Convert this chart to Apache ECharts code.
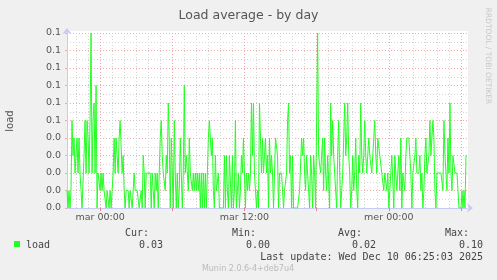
<!DOCTYPE html>
<html><head><meta charset="utf-8">
<script src="https://cdn.jsdelivr.net/npm/echarts@6/dist/echarts.min.js"></script>
<style>html,body{margin:0;padding:0;background:#f0f0f0;}#c{width:497px;height:280px;}</style>
</head><body><div id="c"></div>
<script>
// ---- data ----
const title = 'Load average - by day';
const seriesName = 'load';
// 5-minute samples, first sample at Mon 21:15 (165 min before "mar 00:00")
const startMinute = -165;
const stepMinutes = 5;
const loadValues = [
0.01,0.00,0.01,0.00,0.01,0.05,0.03,0.04,0.02,0.03,0.04,0.02,0.04,0.02,0.01,0.00,0.00,0.03,0.05,0.02,
0.05,0.04,0.02,0.05,0.10,0.02,0.05,0.06,0.02,0.07,0.00,0.02,0.02,0.01,0.02,0.01,0.02,0.01,0.01,0.00,
0.01,0.01,0.00,0.01,0.00,0.01,0.02,0.04,0.02,0.04,0.03,0.02,0.04,0.05,0.05,0.02,0.03,0.01,0.00,0.01,
0.01,0.01,0.00,0.01,0.01,0.00,0.01,0.02,0.01,0.01,0.01,0.01,0.00,0.00,0.01,0.00,0.03,0.02,0.00,0.02,
0.02,0.02,0.02,0.02,0.00,0.02,0.01,0.00,0.02,0.01,0.02,0.00,0.02,0.04,0.05,0.03,0.02,0.02,0.01,0.03,
0.02,0.06,0.04,0.00,0.04,0.02,0.00,0.05,0.02,0.00,0.02,0.00,0.01,0.04,0.02,0.00,0.02,0.07,0.02,0.03,
0.02,0.01,0.04,0.02,0.02,0.01,0.02,0.01,0.02,0.01,0.02,0.01,0.02,0.00,0.02,0.00,0.02,0.00,0.02,0.00,
0.02,0.04,0.05,0.04,0.03,0.04,0.01,0.00,0.03,0.01,0.01,0.02,0.00,0.00,0.00,0.00,0.00,0.03,0.00,0.03,
0.01,0.00,0.03,0.03,0.00,0.03,0.00,0.01,0.05,0.00,0.01,0.02,0.00,0.01,0.03,0.02,0.04,0.02,0.00,0.02,
0.01,0.02,0.01,0.02,0.06,0.03,0.06,0.02,0.02,0.00,0.01,0.00,0.06,0.04,0.02,0.04,0.02,0.03,0.04,0.02,
0.03,0.00,0.04,0.02,0.03,0.02,0.00,0.02,0.04,0.04,0.03,0.00,0.02,0.02,0.02,0.02,0.00,0.01,0.01,0.02,
0.05,0.06,0.02,0.03,0.00,0.03,0.00,0.00,0.00,0.00,0.00,0.00,0.01,0.01,0.04,0.03,0.04,0.02,0.01,0.03,
0.02,0.02,0.00,0.03,0.02,0.00,0.03,0.02,0.00,0.05,0.10,0.03,0.03,0.02,0.03,0.04,0.01,0.04,0.02,0.01,
0.03,0.03,0.00,0.06,0.03,0.05,0.03,0.02,0.02,0.00,0.03,0.05,0.02,0.00,0.01,0.02,0.04,0.06,0.03,0.04,
0.06,0.03,0.02,0.00,0.01,0.03,0.01,0.02,0.04,0.01,0.00,0.03,0.02,0.06,0.03,0.02,0.03,0.05,0.03,0.02,
0.03,0.04,0.03,0.03,0.02,0.03,0.03,0.05,0.03,0.02,0.04,0.04,0.03,0.03,0.02,0.02,0.01,0.02,0.02,0.01,
0.02,0.00,0.01,0.02,0.03,0.03,0.00,0.03,0.03,0.01,0.02,0.03,0.01,0.04,0.00,0.02,0.02,0.01,0.03,0.04,
0.04,0.04,0.03,0.02,0.00,0.02,0.02,0.03,0.04,0.02,0.02,0.02,0.03,0.01,0.02,0.00,0.01,0.03,0.04,0.02,
0.02,0.03,0.05,0.03,0.03,0.05,0.04,0.01,0.00,0.02,0.02,0.02,0.02,0.02,0.02,0.01,0.05,0.03,0.02,0.01,
0.04,0.02,0.06,0.02,0.01,0.03,0.03,0.02,0.02,0.02,0.01,0.00,0.00,0.00,0.01,0.00,0.01,0.00,0.03,0.03
];
const dayNames = ['lun', 'mar', 'mer'];
const yTickLabels = ['0.0','0.0','0.0','0.0','0.0','0.1','0.1','0.1','0.1','0.1','0.1'];
const statHeaders = ['Cur:', 'Min:', 'Avg:', 'Max:'];
const statValues = ['0.03', '0.00', '0.02', '0.10'];
const lastUpdate = 'Last update: Wed Dec 10 06:25:03 2025';
const footer = 'Munin 2.0.6-4+deb7u4';
const sideText = 'RRDTOOL / TOBI OETIKER';

// ---- build categories (minutes relative to Tue 00:00) ----
const minutes = loadValues.map((_, i) => startMinute + i * stepMinutes);
const pad = n => (n < 10 ? '0' : '') + n;
const categories = minutes.map(m => {
  const t = m + 1440;
  const d = Math.floor(t / 1440), r = t % 1440;
  return dayNames[d] + ' ' + pad(Math.floor(r / 60)) + ':' + pad(r % 60);
});
const mod = (a, b) => ((a % b) + b) % b;
const isHour = i => mod(minutes[i], 60) === 0;
const isSix = i => mod(minutes[i], 360) === 0;
const isNoon = i => mod(minutes[i], 720) === 0;

const RED = '#f4aaaa';
const GRAY = '#d4d4d4';
const vLines = [];
categories.forEach((c, i) => {
  if (isHour(i) && !isSix(i)) vLines.push({xAxis: c, lineStyle: {color: GRAY, type: [1, 2], width: 1}});
});
categories.forEach((c, i) => {
  if (isSix(i)) vLines.push({xAxis: c, lineStyle: {color: RED, type: [1, 2], width: 1}});
});

const G = {left: 67, top: 33, width: 400, height: 175};
const mono = '10px "DejaVu Sans Mono"';
const txt = '#444';

const statX = [149, 256, 362, 469];
const graphics = [
  {type: 'rect', z: -100, silent: true, shape: {x: 67, y: 31, width: 401, height: 177}, style: {fill: '#ffffff'}},
  {type: 'text', x: 10, y: 121, rotation: Math.PI / 2, style: {text: seriesName, x: 0, y: 0, fill: '#555', font: '10px "DejaVu Sans"', textAlign: 'center', textVerticalAlign: 'middle'}},
  {type: 'text', x: 488, y: 56, rotation: -Math.PI / 2, style: {text: sideText, x: 0, y: 0, fill: '#c8c8c8', font: '7.5px "DejaVu Sans"', textAlign: 'center', textVerticalAlign: 'middle'}},
  {type: 'rect', shape: {x: 14, y: 241, width: 6, height: 6}, style: {fill: '#22ff22'}},
  {type: 'text', style: {text: seriesName, x: 26, y: 245, fill: txt, font: mono, textAlign: 'left', textVerticalAlign: 'middle'}},
  {type: 'text', style: {text: lastUpdate, x: 483, y: 257, fill: txt, font: mono, textAlign: 'right', textVerticalAlign: 'middle'}},
  {type: 'text', style: {text: footer, x: 248, y: 269, fill: '#bbbbbb', font: '8px "DejaVu Sans"', textAlign: 'center', textVerticalAlign: 'middle'}}
];
statHeaders.forEach((h, k) => {
  graphics.push({type: 'text', style: {text: h, x: statX[k], y: 233, fill: txt, font: mono, textAlign: 'right', textVerticalAlign: 'middle'}});
  graphics.push({type: 'text', style: {text: statValues[k], x: statX[k] + 14, y: 245, fill: txt, font: mono, textAlign: 'right', textVerticalAlign: 'middle'}});
});

const axisLineStyle = {show: true, lineStyle: {color: '#c8caf6', width: 1}, symbol: ['none', 'arrow'], symbolSize: [7, 6]};

const chart = echarts.init(document.getElementById('c'), null, {renderer: 'canvas'});
chart.setOption({
  backgroundColor: '#f0f0f0',
  animation: false,
  title: {text: title, left: 'center', top: 4, textStyle: {fontFamily: 'DejaVu Sans', fontSize: 12.5, fontWeight: 'normal', color: '#555'}},
  grid: Object.assign({show: true, backgroundColor: '#ffffff', borderWidth: 0, containLabel: false}, G),
  xAxis: [
    {
      type: 'category', data: categories, boundaryGap: false, position: 'bottom',
      axisLine: Object.assign({}, axisLineStyle, {symbolOffset: [0, 6]}),
      axisTick: {show: true, interval: (i) => isSix(i), length: 3, lineStyle: {color: '#f08080'}},
      axisLabel: {interval: (i) => isNoon(i), margin: 5, color: '#555', fontFamily: 'DejaVu Sans', fontSize: 9.5},
      splitLine: {show: false}
    }
  ],
  yAxis: [
    {
      type: 'value', min: 0, max: 0.1, interval: 0.005,
      axisLine: {show: false}, axisTick: {show: false}, axisLabel: {show: false},
      splitLine: {show: true, lineStyle: {color: GRAY, type: [1, 2], width: 1}}
    },
    {
      type: 'value', min: 0, max: 0.1, interval: 0.01, position: 'left',
      axisLine: Object.assign({}, axisLineStyle, {symbolOffset: [0, 5]}),
      axisTick: {show: true, length: 2, lineStyle: {color: RED}},
      axisLabel: {margin: 6, color: '#555', fontFamily: 'DejaVu Sans', fontSize: 9.5,
        formatter: v => yTickLabels[Math.round(v * 100)]},
      splitLine: {show: true, lineStyle: {color: RED, type: [1, 2], width: 1}}
    }
  ],
  series: [{
    name: seriesName, type: 'line', data: loadValues, xAxisIndex: 0, yAxisIndex: 1,
    showSymbol: false, symbol: 'none', z: 3,
    lineStyle: {color: '#22ff22', width: 1}, itemStyle: {color: '#22ff22'},
    markLine: {silent: true, symbol: 'none', z: 1, animation: false, label: {show: false},
      emphasis: {disabled: true}, data: vLines}
  }],
  graphic: graphics
});
</script></body></html>
